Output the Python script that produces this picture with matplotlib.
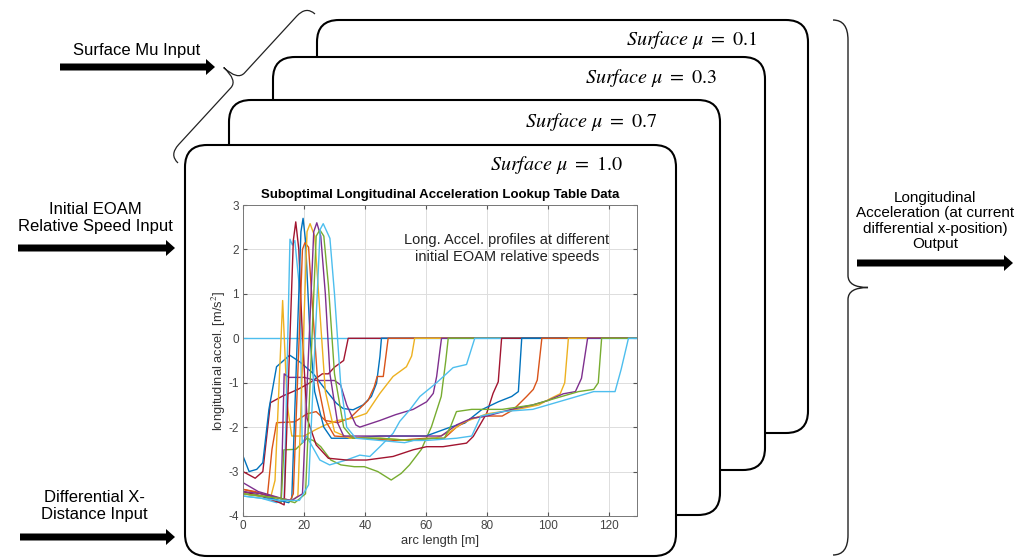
import numpy as np
import matplotlib
matplotlib.use('Agg')
import matplotlib.pyplot as plt
from matplotlib.path import Path
from matplotlib.patches import PathPatch, FancyArrow

plt.rcParams['font.family'] = ['Liberation Sans', 'DejaVu Sans']
plt.rcParams['mathtext.fontset'] = 'stix'
plt.rcParams['axes.unicode_minus'] = False

# lookup table profiles: arc length [m] vs longitudinal accel [m/s^2]
arc_0 = [0, 130]
acc_0 = [0, 0]

arc_1 = [0, 4, 6.5, 9, 13, 18, 22, 26, 28, 30, 33, 34.5, 130]
acc_1 = [-3.0, -3.15, -3.0, -1.45, -1.3, -1.15, -1.0, -0.8, -0.8, -0.65, -0.5, 0, 0]

arc_2 = [0, 2, 4.5, 6.5, 8.5, 11, 15.3, 18.6, 23, 26.3, 30.6, 32.8, 36.1, 39.4, 42.1, 43.8, 44.9, 45.4, 130]
acc_2 = [-2.65, -3.0, -2.95, -2.8, -1.6, -0.64, -0.38, -0.53, -0.79, -1.09, -1.46, -1.58, -1.61, -1.5, -1.31, -1.01, -0.41, 0, 0]

arc_3 = [0, 4, 8, 9.5, 11, 17, 21, 24, 27, 31, 35, 38, 41, 43, 44, 46, 47.6, 130]
acc_3 = [-3.4, -3.45, -3.55, -2.5, -1.9, -1.88, -1.7, -1.65, -1.85, -1.9, -1.8, -1.6, -1.4, -1.1, -0.86, -0.86, 0, 0]

arc_4 = [0, 5, 9, 10.5, 13, 14.5, 16, 20, 24, 27, 31, 36, 40.5, 44.9, 49.2, 53.6, 55.3, 56.3, 130]
acc_4 = [-3.5, -3.55, -3.6, -3.2, 0.85, -1.5, -2.2, -2.2, -2.05, -1.95, -1.85, -1.8, -1.69, -1.24, -0.86, -0.64, -0.4, 0, 0]

arc_5 = [0, 5, 10, 12.5, 13.5, 15, 20, 24, 30, 32, 34, 37, 38.3, 44.9, 50, 55.8, 60.2, 62.4, 63.5, 64.6, 65.1, 130]
acc_5 = [-3.25, -3.45, -3.55, -3.6, -0.8, -0.88, -0.88, -0.95, -0.95, -1.05, -1.5, -1.95, -2.0, -1.85, -1.72, -1.6, -1.43, -1.24, -0.86, -0.26, 0, 0]

arc_6 = [0, 6, 10, 12.5, 13.4, 17.3, 21, 23, 25.5, 28.8, 32.1, 36.5, 39.8, 44.2, 48.6, 51.9, 54.6, 58.5, 61.8, 65, 66.5, 67.3, 130]
acc_6 = [-3.45, -3.55, -3.6, -3.7, -2.51, -2.5, -2.25, -2.3, -2.44, -2.74, -2.85, -2.89, -2.89, -3.0, -3.19, -3.04, -2.85, -2.5, -1.99, -1.31, -0.5, 0, 0]

arc_7 = [0, 6, 11, 13.5, 15.4, 16.2, 17, 18.7, 19.4, 20.8, 25.2, 28.4, 33.9, 38.3, 41.6, 44.9, 49.2, 51.4, 54.7, 58, 63.5, 68.9, 73.3, 76, 130]
acc_7 = [-3.55, -3.6, -3.7, -3.6, 2.23, 2.1, 2.2, 1.0, -2.36, -2.2, -2.74, -2.85, -2.74, -2.63, -2.66, -2.44, -2.14, -1.87, -1.61, -1.31, -1.0, -0.66, -0.59, 0, 0]

arc_8 = [0, 6, 12, 13.5, 16.5, 17.3, 18.3, 19.5, 21, 24, 28, 33.9, 40.5, 49.2, 55.8, 60.2, 65.6, 73.3, 75.5, 79.9, 82, 83.7, 84.8, 130]
acc_8 = [-3.45, -3.55, -3.7, -3.75, 2.2, 2.62, 2.0, 0.0, -1.8, -2.4, -2.7, -2.74, -2.74, -2.66, -2.51, -2.44, -2.44, -2.36, -2.21, -1.69, -1.24, -0.98, 0, 0]

arc_9 = [0, 6, 12, 15, 16, 19, 19.7, 20.5, 22, 23.5, 26.5, 29, 35, 45, 57, 60, 64, 68, 72.7, 78.2, 83.7, 88.1, 90.3, 91.4, 130]
acc_9 = [-3.5, -3.55, -3.65, -3.7, -3.6, 2.4, 2.7, 2.2, 0.0, -1.2, -2.0, -2.25, -2.25, -2.2, -2.2, -2.2, -2.1, -2.0, -1.91, -1.61, -1.43, -1.31, -1.2, 0, 0]

arc_10 = [0, 6, 12, 15.5, 16.5, 19.5, 20.3, 21.5, 23, 24.5, 27, 30, 40, 50, 60, 66, 70, 75, 80, 85, 88.6, 93, 95.2, 96.5, 98, 130]
acc_10 = [-3.4, -3.5, -3.6, -3.65, -3.5, 2.0, 2.15, 2.05, 0.5, -1.0, -1.85, -2.2, -2.25, -2.3, -2.25, -2.25, -2.0, -1.8, -1.75, -1.75, -1.61, -1.31, -1.15, -0.94, 0, 0]

arc_11 = [0, 6, 12, 16, 18, 21, 22, 23.5, 25, 27, 30, 35, 45, 55, 63, 68, 72, 80, 90, 97, 101, 104, 105.5, 106.7, 130]
acc_11 = [-3.5, -3.55, -3.6, -3.65, -3.55, 2.4, 2.58, 2.3, 0.8, -1.2, -2.1, -2.25, -2.25, -2.3, -2.25, -2.1, -1.9, -1.7, -1.6, -1.5, -1.35, -1.25, -1.0, 0, 0]

arc_12 = [0, 6, 12, 16, 19.5, 23.2, 24.2, 25.5, 27, 28.5, 31, 33, 40, 50, 60, 65, 70, 75, 80, 88, 95, 100, 105, 109, 111, 113, 130]
acc_12 = [-3.45, -3.5, -3.6, -3.65, -3.5, 2.4, 2.6, 2.3, 1.0, -0.8, -1.9, -2.2, -2.2, -2.2, -2.2, -2.2, -1.95, -1.8, -1.75, -1.6, -1.5, -1.4, -1.25, -1.2, -0.9, 0, 0]

arc_13 = [0, 6, 12, 17, 20.5, 24, 25.2, 26.5, 28, 30, 33, 36, 45, 55, 62, 66, 68, 70, 75, 85, 95, 105, 110, 115, 116.5, 117.6, 130]
acc_13 = [-3.5, -3.55, -3.6, -3.7, -3.5, 2.3, 2.44, 2.3, 1.2, -0.8, -2.0, -2.25, -2.25, -2.3, -2.25, -2.25, -2.0, -1.65, -1.6, -1.6, -1.5, -1.3, -1.2, -1.15, -1.0, 0, 0]

arc_14 = [0, 6, 12, 18.5, 21.5, 25.3, 26.3, 27.5, 28.5, 30, 32, 34, 37, 45, 53, 56, 60, 70, 75, 78, 85, 95, 100, 105, 110, 115, 122, 124, 126.4, 130]
acc_14 = [-3.55, -3.6, -3.65, -3.65, -3.3, 2.45, 2.58, 2.4, 2.25, 1.0, -1.0, -2.0, -2.25, -2.3, -2.35, -2.3, -2.3, -2.25, -2.2, -1.75, -1.65, -1.6, -1.5, -1.4, -1.3, -1.2, -1.2, -0.7, 0, 0]

profiles = [(arc_0, acc_0), (arc_1, acc_1), (arc_2, acc_2), (arc_3, acc_3), (arc_4, acc_4),
            (arc_5, acc_5), (arc_6, acc_6), (arc_7, acc_7), (arc_8, acc_8), (arc_9, acc_9),
            (arc_10, acc_10), (arc_11, acc_11), (arc_12, acc_12), (arc_13, acc_13), (arc_14, acc_14)]

surface_labels = ['0.1', '0.3', '0.7', '1.0']
x_ticks = [0, 20, 40, 60, 80, 100, 120]
y_ticks = [-4, -3, -2, -1, 0, 1, 2, 3]

matlab_colors = ['#0072BD', '#D95319', '#EDB120', '#7E2F8E', '#77AC30', '#4DBEEE', '#A2142F']

W, H = 1022, 558
fig = plt.figure(figsize=(W / 100, H / 100), dpi=100)
bg = fig.add_axes([0, 0, 1, 1])
bg.set_xlim(0, W)
bg.set_ylim(H, 0)
bg.axis('off')

M, L, C, Z = Path.MOVETO, Path.LINETO, Path.CURVE3, Path.CLOSEPOLY


def card(ax, left, top, right, bottom, r=22):
    verts = [(left, bottom - r), (left, top + r), (left, top), (left + r, top),
             (right - r, top), (right, top), (right, top + r),
             (right, bottom - r), (right, bottom), (right - r, bottom),
             (left + r, bottom), (left, bottom), (left, bottom - r), (left, bottom - r)]
    codes = [M, L, C, C, L, C, C, L, C, C, L, C, C, Z]
    ax.add_patch(PathPatch(Path(verts, codes), facecolor='white', edgecolor='black', lw=1.5))


def brace(ax, p0, p1, d, c, e_end, e_mid, lw=1.0):
    p0 = np.array(p0, float)
    p1 = np.array(p1, float)
    ln = np.linalg.norm(p1 - p0)
    u = (p1 - p0) / ln
    n = np.array([u[1], -u[0]])

    def P(s, t):
        return tuple(p0 + s * u + t * n)
    m = ln / 2
    verts = [P(0, 0), P(0, d), P(e_end, d), P(m - e_mid, d), P(m, d), P(m, c),
             P(m, d), P(m + e_mid, d), P(ln - e_end, d), P(ln, d), P(ln, 0)]
    codes = [M, C, C, L, C, C, C, C, L, C, C]
    ax.add_patch(PathPatch(Path(verts, codes), facecolor='none', edgecolor='#222222', lw=lw))


# stacked cards, back to front
cards = [(317, 20, 808, 433), (273, 57, 765, 470), (229, 100, 720, 515), (185, 145, 676, 556)]
label_pos = [(757, 40), (717, 78), (657, 122), (623, 165)]
for (l, t, r, b), mu, (lx, ly) in zip(cards, surface_labels, label_pos):
    card(bg, l, t, r, b)
    bg.text(lx, ly, r'$Surface\ \mu\ =\ %s$' % mu, ha='right', va='center', fontsize=14.5)

# braces
brace(bg, (833, 20), (833, 555), 15, 35, 20, 12)
brace(bg, (178, 163), (315, 14), 12, 31, 14, 10, lw=0.9)

# arrows
for x0, x1, y in [(60, 215, 67), (18, 175, 248), (20, 175, 537), (857, 1013, 263)]:
    bg.add_patch(FancyArrow(x0, y, x1 - x0, 0, width=7, head_width=16, head_length=9,
                            length_includes_head=True, color='black', lw=0))

bg.text(137, 50, 'Surface Mu Input', ha='center', va='center', fontsize=12)
bg.text(95, 218, 'Initial EOAM\nRelative Speed Input', ha='center', va='center',
        fontsize=12, linespacing=1.15)
bg.text(94, 506, 'Differential X-\nDistance Input', ha='center', va='center',
        fontsize=12, linespacing=1.15)
bg.text(935, 221, 'Longitudinal\nAcceleration (at current\ndifferential x-position)\nOutput',
        ha='center', va='center', fontsize=11, linespacing=1.15)

# the lookup table plot
ax = fig.add_axes([243 / W, 1 - 516 / H, (637 - 243) / W, (516 - 205) / H])
for i, (xs, ys) in enumerate(profiles):
    ax.plot(xs, ys, color=matlab_colors[(i + 5) % 7], lw=1.0)
ax.set_xlim(0, 129.2)
ax.set_ylim(-4, 3)
ax.set_xticks(x_ticks)
ax.set_yticks(y_ticks)
ax.grid(True, color='#dddddd', lw=0.7)
ax.set_axisbelow(True)
ax.tick_params(direction='in', top=True, right=True, length=3, labelsize=8.5,
               colors='#555555', labelcolor='#444444', pad=3)
for sp in ax.spines.values():
    sp.set_color('#777777')
    sp.set_linewidth(0.7)
ax.set_title('Suboptimal Longitudinal Acceleration Lookup Table Data',
             fontsize=9.5, fontweight='bold', pad=5)
ax.set_xlabel('arc length [m]', fontsize=9.3, color='#333333', labelpad=2)
ax.set_ylabel('longitudinal accel. [m/s$^2$]', fontsize=9.3, color='#333333', labelpad=0)
ax.text(0.67, 0.86, 'Long. Accel. profiles at different\ninitial EOAM relative speeds',
        transform=ax.transAxes, ha='center', va='center', fontsize=10.5, color='#222222')

fig.savefig('out.png', dpi=100)
